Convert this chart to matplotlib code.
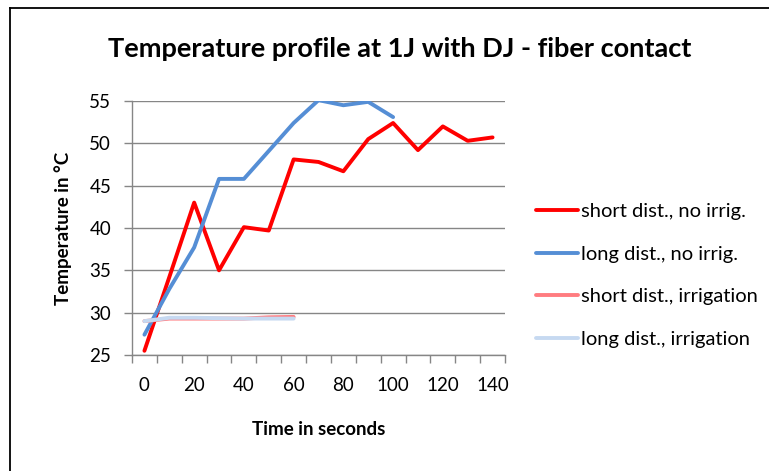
import matplotlib
matplotlib.use('Agg')
import matplotlib.pyplot as plt
from matplotlib.lines import Line2D
import numpy as np

plt.rcParams['font.family'] = ['Lato', 'DejaVu Sans']

# categories on the x axis (seconds)
time_s = [0, 10, 20, 30, 40, 50, 60, 70, 80, 90, 100, 110, 120, 130, 140]
tick_labels = ['0', '20', '40', '60', '80', '100', '120', '140']

short_no_irr = [25.5, 34.2, 43.0, 35.0, 40.1, 39.7, 48.1, 47.8, 46.7, 50.5, 52.4, 49.2, 52.0, 50.3, 50.7]
long_no_irr = [27.4, 32.8, 37.7, 45.8, 45.8, 49.1, 52.4, 55.1, 54.5, 54.9, 53.1]
short_irr = [29.0, 29.3, 29.3, 29.3, 29.3, 29.45, 29.5]
long_irr = [29.0, 29.4, 29.4, 29.35, 29.3, 29.3, 29.3]

names = ['short dist., no irrig.', 'long dist., no irrig.',
         'short dist., irrigation', 'long dist., irrigation']
colors = ['#FF0000', '#558ED5', '#FF7C80', '#C6D9F1']

W, H = 769, 471
fig = plt.figure(figsize=(W/100, H/100), dpi=100)
ax = fig.add_axes([132/W, 1-355/H, (505-132)/W, (355-101)/H])

grid_c = '#868686'
series = [short_no_irr, long_no_irr, short_irr, long_irr]
handles = []
for vals, c, n in zip(series, colors, names):
    idx = np.arange(len(vals))
    h, = ax.plot(idx, vals, color=c, lw=2.8, solid_capstyle='round', label=n)
    handles.append(h)

ax.set_xlim(-0.5, len(time_s)-0.5)
ax.set_ylim(25, 55)
ax.set_yticks(np.arange(25, 56, 5))
ax.yaxis.grid(True, color=grid_c, lw=1)
ax.set_axisbelow(True)

ax.set_xticks(np.arange(0, len(time_s), 2))
ax.set_xticklabels(tick_labels)
ax.set_xticks(np.arange(-0.5, len(time_s), 1), minor=True)
ax.tick_params(axis='x', which='major', length=0, pad=16, labelsize=13.5)
ax.tick_params(axis='x', which='minor', length=6, width=1, color=grid_c)
ax.tick_params(axis='y', length=6, width=1, color=grid_c, pad=9, labelsize=13.5)

for s in ['top', 'right']:
    ax.spines[s].set_visible(False)
for s in ['left', 'bottom']:
    ax.spines[s].set_color(grid_c)
    ax.spines[s].set_linewidth(1)

ax.set_xlabel('Time in seconds', fontsize=13.5, fontweight='bold', labelpad=19)
ax.set_ylabel('Temperature in °C', fontsize=13.5, fontweight='bold', labelpad=12)

fig.text(400/W, 1-49/H, 'Temperature profile at 1J with DJ - fiber contact',
         ha='center', va='center', fontsize=19.5, fontweight='bold')

fig.legend(handles=handles, loc='center left', bbox_to_anchor=(536/W, 1-275.5/H),
           frameon=False, fontsize=14.5, handlelength=2.1, handletextpad=0.15,
           labelspacing=1.28, borderpad=0, borderaxespad=0)

# outer chart border (only top and left edges visible)
fig.add_artist(Line2D([10/W, 10/W], [0, 1-8/H], color='black', lw=1.3))
fig.add_artist(Line2D([10/W, 1], [1-8/H, 1-8/H], color='black', lw=1.3))

fig.savefig('out.png', dpi=100)
